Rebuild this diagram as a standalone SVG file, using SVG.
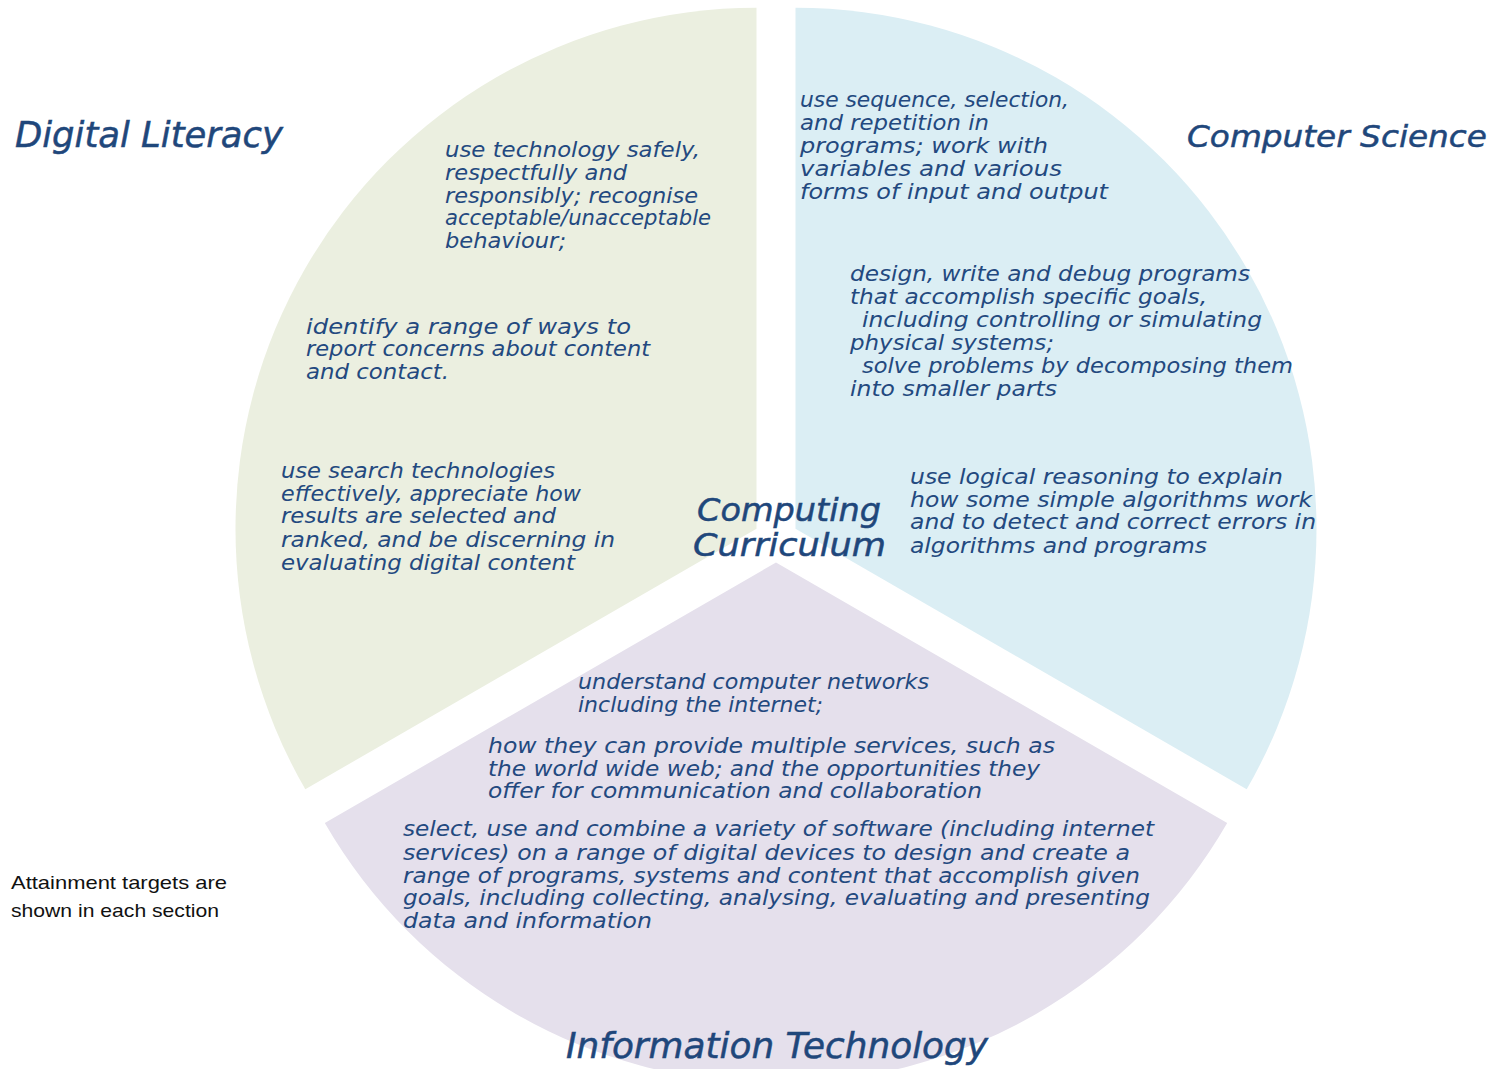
<svg xmlns="http://www.w3.org/2000/svg" width="1499" height="1069" viewBox="0 0 1499 1069">
<style>
.bg{fill:#ffffff}
.dl{fill:#EBEFE0}
.cs{fill:#DBEEF4}
.it{fill:#E5E0EC}
.t{font-family:"DejaVu Sans","Liberation Sans",sans-serif;font-style:oblique;font-size:20.5px;fill:#23497F}
.h{font-family:"DejaVu Sans","Liberation Sans",sans-serif;font-style:oblique;font-size:35px;fill:#1F477B;stroke:#1F477B;stroke-width:0.5}
.hs{font-size:31px}
.c{font-family:"DejaVu Sans","Liberation Sans",sans-serif;font-style:oblique;font-size:32px;fill:#1F477B;stroke:#1F477B;stroke-width:0.5}
.n{font-family:"Liberation Sans","Open Sans",sans-serif;font-size:19px;fill:#111111}
</style>
<rect class="bg" x="0" y="0" width="1499" height="1069"/>

<g id="digital-literacy">
<path class="dl" d="M 756.5 528.75 L 756.5 7.75 A 521 521 0 0 0 305.3 789.25 Z"/>
<text class="h" x="15" y="147" textLength="268" lengthAdjust="spacingAndGlyphs">Digital Literacy</text>
<text class="t" x="445" y="157" textLength="255" lengthAdjust="spacingAndGlyphs">use technology safely,</text>
<text class="t" x="445" y="180" textLength="182" lengthAdjust="spacingAndGlyphs">respectfully and</text>
<text class="t" x="445" y="203" textLength="253" lengthAdjust="spacingAndGlyphs">responsibly; recognise</text>
<text class="t" x="445" y="225" textLength="266" lengthAdjust="spacingAndGlyphs">acceptable/unacceptable</text>
<text class="t" x="445" y="248" textLength="121" lengthAdjust="spacingAndGlyphs">behaviour;</text>
<text class="t" x="306" y="334" textLength="325" lengthAdjust="spacingAndGlyphs">identify a range of ways to</text>
<text class="t" x="306" y="356" textLength="344" lengthAdjust="spacingAndGlyphs">report concerns about content</text>
<text class="t" x="306" y="379" textLength="143" lengthAdjust="spacingAndGlyphs">and contact.</text>
<text class="t" x="281" y="478" textLength="274" lengthAdjust="spacingAndGlyphs">use search technologies</text>
<text class="t" x="281" y="501" textLength="300" lengthAdjust="spacingAndGlyphs">effectively, appreciate how</text>
<text class="t" x="281" y="523" textLength="275" lengthAdjust="spacingAndGlyphs">results are selected and</text>
<text class="t" x="281" y="547" textLength="334" lengthAdjust="spacingAndGlyphs">ranked, and be discerning in</text>
<text class="t" x="281" y="570" textLength="294" lengthAdjust="spacingAndGlyphs">evaluating digital content</text>
</g>

<g id="computer-science">
<path class="cs" d="M 795.5 528.75 L 795.5 7.75 A 521 521 0 0 1 1246.7 789.25 Z"/>
<text class="h hs" x="1187" y="147" textLength="300" lengthAdjust="spacingAndGlyphs">Computer Science</text>
<text class="t" x="800" y="107" textLength="269" lengthAdjust="spacingAndGlyphs">use sequence, selection,</text>
<text class="t" x="800" y="130" textLength="189" lengthAdjust="spacingAndGlyphs">and repetition in</text>
<text class="t" x="800" y="153" textLength="248" lengthAdjust="spacingAndGlyphs">programs; work with</text>
<text class="t" x="800" y="176" textLength="262" lengthAdjust="spacingAndGlyphs">variables and various</text>
<text class="t" x="800" y="199" textLength="308" lengthAdjust="spacingAndGlyphs">forms of input and output</text>
<text class="t" x="850" y="281" textLength="400" lengthAdjust="spacingAndGlyphs">design, write and debug programs</text>
<text class="t" x="850" y="304" textLength="357" lengthAdjust="spacingAndGlyphs">that accomplish specific goals,</text>
<text class="t" x="862" y="327" textLength="400" lengthAdjust="spacingAndGlyphs">including controlling or simulating</text>
<text class="t" x="850" y="350" textLength="204" lengthAdjust="spacingAndGlyphs">physical systems;</text>
<text class="t" x="862" y="373" textLength="431" lengthAdjust="spacingAndGlyphs">solve problems by decomposing them</text>
<text class="t" x="850" y="396" textLength="207" lengthAdjust="spacingAndGlyphs">into smaller parts</text>
<text class="t" x="910" y="484" textLength="373" lengthAdjust="spacingAndGlyphs">use logical reasoning to explain</text>
<text class="t" x="910" y="507" textLength="402" lengthAdjust="spacingAndGlyphs">how some simple algorithms work</text>
<text class="t" x="910" y="529" textLength="406" lengthAdjust="spacingAndGlyphs">and to detect and correct errors in</text>
<text class="t" x="910" y="553" textLength="297" lengthAdjust="spacingAndGlyphs">algorithms and programs</text>
</g>

<g id="information-technology">
<path class="it" d="M 776 562.5 L 1227.2 823 A 521 521 0 0 1 324.8 823 Z"/>
<text class="h" x="566" y="1058" textLength="422" lengthAdjust="spacingAndGlyphs">Information Technology</text>
<text class="t" x="578" y="689" textLength="351" lengthAdjust="spacingAndGlyphs">understand computer networks</text>
<text class="t" x="578" y="712" textLength="245" lengthAdjust="spacingAndGlyphs">including the internet;</text>
<text class="t" x="488" y="753" textLength="567" lengthAdjust="spacingAndGlyphs">how they can provide multiple services, such as</text>
<text class="t" x="488" y="776" textLength="552" lengthAdjust="spacingAndGlyphs">the world wide web; and the opportunities they</text>
<text class="t" x="488" y="798" textLength="494" lengthAdjust="spacingAndGlyphs">offer for communication and collaboration</text>
<text class="t" x="403" y="836" textLength="751" lengthAdjust="spacingAndGlyphs">select, use and combine a variety of software (including internet</text>
<text class="t" x="403" y="860" textLength="727" lengthAdjust="spacingAndGlyphs">services) on a range of digital devices to design and create a</text>
<text class="t" x="403" y="883" textLength="737" lengthAdjust="spacingAndGlyphs">range of programs, systems and content that accomplish given</text>
<text class="t" x="403" y="905" textLength="747" lengthAdjust="spacingAndGlyphs">goals, including collecting, analysing, evaluating and presenting</text>
<text class="t" x="403" y="928" textLength="249" lengthAdjust="spacingAndGlyphs">data and information</text>
</g>

<g id="computing-curriculum">
<text class="c" x="697" y="521" textLength="184" lengthAdjust="spacingAndGlyphs">Computing</text>
<text class="c" x="693" y="556" textLength="193" lengthAdjust="spacingAndGlyphs">Curriculum</text>
</g>

<g id="note">
<text class="n" x="11" y="889" textLength="216" lengthAdjust="spacingAndGlyphs">Attainment targets are</text>
<text class="n" x="11" y="917" textLength="208" lengthAdjust="spacingAndGlyphs">shown in each section</text>
</g>
</svg>
